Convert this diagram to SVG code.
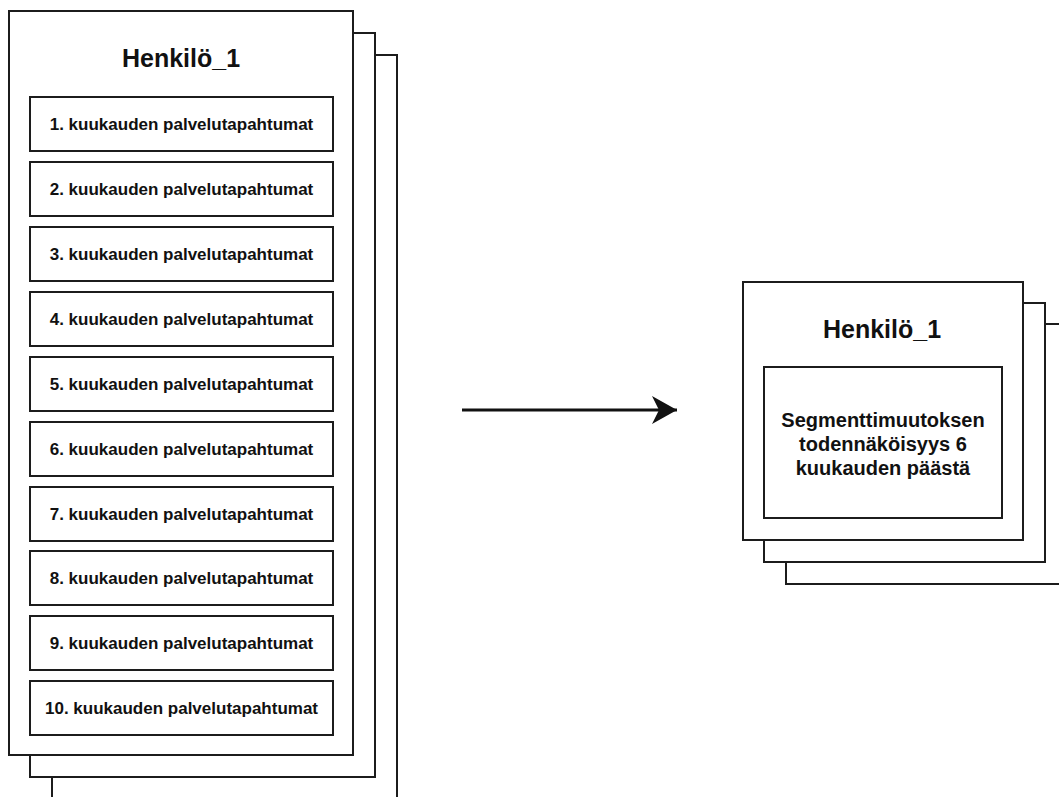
<svg xmlns="http://www.w3.org/2000/svg" width="1059" height="797" viewBox="0 0 1059 797">
  <style>
    .frame { fill: #ffffff; stroke: #1c1c1c; stroke-width: 2; }
    .title { font-family: "Liberation Sans", Arial, sans-serif; font-weight: bold; font-size: 25px; fill: #111; text-anchor: middle; }
    .row { font-family: "Liberation Sans", Arial, sans-serif; font-weight: bold; font-size: 17px; fill: #111; text-anchor: middle; }
    .big { font-family: "Liberation Sans", Arial, sans-serif; font-weight: bold; font-size: 20px; fill: #111; text-anchor: middle; }
    .link { fill: none; stroke: #111; stroke-width: 3; }
  </style>
  <defs>
    <marker id="arrowhead" markerUnits="userSpaceOnUse" markerWidth="28" markerHeight="30" refX="25" refY="15" orient="auto">
      <path d="M0,1 L25,15 L0,29 L7,15 Z" fill="#111"/>
    </marker>
  </defs>
  <rect width="1059" height="797" fill="#ffffff"/>

  <!-- input stack: one person, ten monthly event sets -->
  <g id="input-person">
    <rect class="frame" x="52" y="55" width="345" height="760"/>
    <rect class="frame" x="30" y="33" width="345" height="744"/>
    <rect class="frame" x="9" y="11" width="344" height="744"/>
    <text class="title" x="181" y="67">Henkilö_1</text>
  </g>
  <g id="month-1"><rect class="frame" x="30" y="97" width="303" height="54"/><text class="row" x="181.5" y="130">1. kuukauden palvelutapahtumat</text></g>
  <g id="month-2"><rect class="frame" x="30" y="162" width="303" height="54"/><text class="row" x="181.5" y="195">2. kuukauden palvelutapahtumat</text></g>
  <g id="month-3"><rect class="frame" x="30" y="227" width="303" height="54"/><text class="row" x="181.5" y="260">3. kuukauden palvelutapahtumat</text></g>
  <g id="month-4"><rect class="frame" x="30" y="292" width="303" height="54"/><text class="row" x="181.5" y="325">4. kuukauden palvelutapahtumat</text></g>
  <g id="month-5"><rect class="frame" x="30" y="357" width="303" height="54"/><text class="row" x="181.5" y="390">5. kuukauden palvelutapahtumat</text></g>
  <g id="month-6"><rect class="frame" x="30" y="422" width="303" height="54"/><text class="row" x="181.5" y="455">6. kuukauden palvelutapahtumat</text></g>
  <g id="month-7"><rect class="frame" x="30" y="487" width="303" height="54"/><text class="row" x="181.5" y="520">7. kuukauden palvelutapahtumat</text></g>
  <g id="month-8"><rect class="frame" x="30" y="551" width="303" height="54"/><text class="row" x="181.5" y="584">8. kuukauden palvelutapahtumat</text></g>
  <g id="month-9"><rect class="frame" x="30" y="616" width="303" height="54"/><text class="row" x="181.5" y="649">9. kuukauden palvelutapahtumat</text></g>
  <g id="month-10"><rect class="frame" x="30" y="681" width="303" height="54"/><text class="row" x="181.5" y="714">10. kuukauden palvelutapahtumat</text></g>

  <!-- output stack: predicted probability per person -->
  <g id="output-person">
    <rect class="frame" x="786" y="324" width="290" height="260"/>
    <rect class="frame" x="764" y="303" width="281" height="259"/>
    <rect class="frame" x="743" y="282" width="280" height="258"/>
    <text class="title" x="882" y="338">Henkilö_1</text>
  </g>
  <g id="probability">
    <rect class="frame" x="764" y="367" width="238" height="151"/>
    <text class="big" x="883" y="427">Segmenttimuutoksen</text>
    <text class="big" x="883" y="451">todennäköisyys 6</text>
    <text class="big" x="883" y="475">kuukauden päästä</text>
  </g>

  <g id="connectors">
    <line class="link" x1="462" y1="410" x2="677" y2="410" marker-end="url(#arrowhead)"/>
  </g>
</svg>
